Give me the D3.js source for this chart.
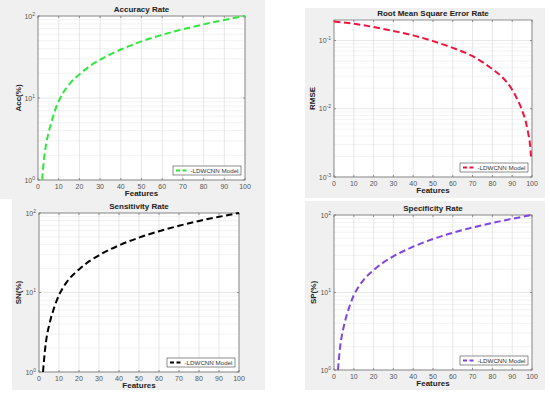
<!DOCTYPE html>
<html>
<head>
<meta charset="utf-8">
<script src="https://cdn.jsdelivr.net/npm/d3@7"></script>
<style>
  body { margin: 0; background: #fff; }
  svg { display: block; font-family: "Liberation Sans", Arial, sans-serif; }
</style>
</head>
<body>
<svg id="chart" width="550" height="394"></svg>
<script>
// values
var accFeatures = [2, 3, 4, 5, 6, 7, 8, 10, 12, 15, 20, 25, 30, 40, 50, 60, 70, 80, 90, 100];
var accValues   = [1, 1.9, 2.8, 3.7, 4.6, 5.6, 6.8, 9.1, 11.4, 14.6, 19.4, 24.5, 29.3, 39, 49, 59, 69, 79, 89.5, 100];

var rmseFeatures = [0, 10, 20, 30, 40, 50, 60, 70, 80, 85, 90, 93, 95, 97, 98, 99, 99.5];
var rmseValues   = [0.19, 0.176, 0.158, 0.138, 0.119, 0.098, 0.078, 0.059, 0.038, 0.029, 0.019, 0.013, 0.0095, 0.0062, 0.0045, 0.003, 0.002];

var snFeatures = [2, 3, 4, 5, 6, 7, 8, 10, 12, 15, 20, 25, 30, 40, 50, 60, 70, 80, 90, 100];
var snValues   = [1, 1.9, 2.9, 3.8, 4.8, 5.8, 6.9, 9.3, 11.5, 14.7, 19.5, 24.6, 29.4, 39.2, 49, 59, 69, 79.5, 89.5, 100];

var spFeatures = [2, 3, 4, 5, 6, 7, 8, 10, 12, 15, 20, 25, 30, 40, 50, 60, 70, 80, 90, 100];
var spValues   = [1, 1.9, 2.8, 3.7, 4.7, 5.7, 6.8, 9.2, 11.4, 14.6, 19.4, 24.5, 29.3, 39, 49, 59, 69, 79, 89.5, 100];

var xTicks = [0, 10, 20, 30, 40, 50, 60, 70, 80, 90, 100];
var titles = ["Accuracy Rate", "Root Mean Square Error Rate", "Sensitivity Rate", "Specificity Rate"];
var yLabels = ["Acc(%)", "RMSE", "SN(%)", "SP(%)"];
var legendText = "LDWCNN Model";

var panels = [
  {bg: [0, 0, 265, 199],   plot: {l: 38, t: 16, r: 245, b: 180}, xs: accFeatures, ys: accValues, yDom: [1, 100], yExp: [0, 1, 2], color: "#2fe83a", title: titles[0], ylab: yLabels[0], ylx: 21},
  {bg: [305, 8, 240, 190], plot: {l: 334, t: 20, r: 532, b: 177}, xs: rmseFeatures, ys: rmseValues, yDom: [0.001, 0.2], yExp: [-3, -2, -1], color: "#f0143c", title: titles[1], ylx: 315, ylab: yLabels[1]},
  {bg: [12, 199, 253, 191], plot: {l: 39, t: 213, r: 239, b: 372}, xs: snFeatures, ys: snValues, yDom: [1, 100], yExp: [0, 1, 2], color: "#000000", title: titles[2], ylab: yLabels[2], ylx: 21},
  {bg: [305, 201, 240, 189], plot: {l: 334, t: 215, r: 532, b: 370}, xs: spFeatures, ys: spValues, yDom: [1, 100], yExp: [0, 1, 2], color: "#7f45e0", title: titles[3], ylab: yLabels[3], ylx: 316}
];

var svg = d3.select("#chart");

panels.forEach(function(p) {
  var g = svg.append("g");
  var w = p.plot.r - p.plot.l, h = p.plot.b - p.plot.t;

  g.append("rect")
      .attr("x", p.bg[0]).attr("y", p.bg[1])
      .attr("width", p.bg[2]).attr("height", p.bg[3])
      .attr("fill", "#f0f0f0");

  var x = d3.scaleLinear().domain([0, 100]).range([p.plot.l, p.plot.r]),
      y = d3.scaleLog().domain(p.yDom).range([p.plot.b, p.plot.t]);

  g.append("rect")
      .attr("x", p.plot.l).attr("y", p.plot.t)
      .attr("width", w).attr("height", h)
      .attr("fill", "#fff");

  // minor log grid
  var minor = [];
  p.yExp.forEach(function(e) {
    for (var k = 2; k <= 9; k++) {
      var v = k * Math.pow(10, e);
      if (v > p.yDom[0] && v < p.yDom[1]) minor.push(v);
    }
  });
  g.selectAll(".minor").data(minor).enter().append("line")
      .attr("x1", p.plot.l).attr("x2", p.plot.r)
      .attr("y1", function(d) { return y(d); }).attr("y2", function(d) { return y(d); })
      .attr("stroke", "#ebebeb").attr("stroke-width", 0.6);

  var majors = p.yExp.map(function(e) { return Math.pow(10, e); });
  g.selectAll(".ymaj").data(majors).enter().append("line")
      .attr("x1", p.plot.l).attr("x2", p.plot.r)
      .attr("y1", function(d) { return y(d); }).attr("y2", function(d) { return y(d); })
      .attr("stroke", "#dcdcdc").attr("stroke-width", 0.7);

  g.selectAll(".xgrid").data(xTicks).enter().append("line")
      .attr("x1", function(d) { return x(d); }).attr("x2", function(d) { return x(d); })
      .attr("y1", p.plot.t).attr("y2", p.plot.b)
      .attr("stroke", "#dcdcdc").attr("stroke-width", 0.7);

  // ticks inside on all sides
  var tickG = g.append("g");
  xTicks.forEach(function(t) {
    tickG.append("line").attr("x1", x(t)).attr("x2", x(t)).attr("y1", p.plot.b).attr("y2", p.plot.b - 2).attr("stroke", "#555").attr("stroke-width", 0.6);
    tickG.append("line").attr("x1", x(t)).attr("x2", x(t)).attr("y1", p.plot.t).attr("y2", p.plot.t + 2).attr("stroke", "#555").attr("stroke-width", 0.6);
  });
  majors.forEach(function(t) {
    tickG.append("line").attr("x1", p.plot.l).attr("x2", p.plot.l + 2).attr("y1", y(t)).attr("y2", y(t)).attr("stroke", "#555").attr("stroke-width", 0.6);
    tickG.append("line").attr("x1", p.plot.r).attr("x2", p.plot.r - 2).attr("y1", y(t)).attr("y2", y(t)).attr("stroke", "#555").attr("stroke-width", 0.6);
  });

  g.append("rect")
      .attr("x", p.plot.l).attr("y", p.plot.t)
      .attr("width", w).attr("height", h)
      .attr("fill", "none").attr("stroke", "#777").attr("stroke-width", 0.8);

  // x tick labels
  g.selectAll(".xl").data(xTicks).enter().append("text")
      .attr("x", function(d) { return x(d); })
      .attr("y", p.plot.b + 8.5)
      .attr("text-anchor", "middle")
      .attr("font-size", 7)
      .attr("fill", "#555")
      .text(function(d) { return d; });

  // y tick labels 10^e
  p.yExp.forEach(function(e) {
    var t = g.append("text")
        .attr("x", p.plot.l - 3)
        .attr("y", y(Math.pow(10, e)) + 2.5)
        .attr("text-anchor", "end")
        .attr("font-size", 7)
        .attr("fill", "#555");
    t.append("tspan").text("10");
    t.append("tspan").attr("dy", -3).attr("font-size", 5).text(e);
  });

  g.append("text")
      .attr("x", (p.plot.l + p.plot.r) / 2)
      .attr("y", p.plot.t - 4)
      .attr("text-anchor", "middle")
      .attr("font-size", 8)
      .attr("font-weight", "bold")
      .attr("fill", "#222")
      .text(p.title);

  g.append("text")
      .attr("x", (p.plot.l + p.plot.r) / 2)
      .attr("y", p.plot.b + 16)
      .attr("text-anchor", "middle")
      .attr("font-size", 8)
      .attr("font-weight", "bold")
      .attr("fill", "#222")
      .text("Features");

  g.append("text")
      .attr("transform", "translate(" + p.ylx + "," + ((p.plot.t + p.plot.b) / 2) + ") rotate(-90)")
      .attr("text-anchor", "middle")
      .attr("font-size", 8)
      .attr("font-weight", "bold")
      .attr("fill", "#222")
      .text(p.ylab);

  // the data line
  var pts = p.xs.map(function(d, i) { return [d, p.ys[i]]; });
  var line = d3.line()
      .x(function(d) { return x(d[0]); })
      .y(function(d) { return y(d[1]); })
      .curve(d3.curveMonotoneX);

  g.append("path")
      .datum(pts)
      .attr("d", line)
      .attr("fill", "none")
      .attr("stroke", p.color)
      .attr("stroke-width", 2)
      .attr("stroke-dasharray", "6.5,3.5");

  // legend, lower right
  var lw = 68, lh = 9,
      lx = p.plot.r - 4 - lw, ly = p.plot.b - 5 - lh;
  g.append("rect")
      .attr("x", lx).attr("y", ly).attr("width", lw).attr("height", lh)
      .attr("fill", "#fff").attr("stroke", "#444").attr("stroke-width", 0.6);
  g.append("line")
      .attr("x1", lx + 3).attr("x2", lx + 16)
      .attr("y1", ly + lh / 2).attr("y2", ly + lh / 2)
      .attr("stroke", p.color).attr("stroke-width", 1.8)
      .attr("stroke-dasharray", "4,2.5");
  g.append("text")
      .attr("x", lx + 17.5).attr("y", ly + lh / 2 + 2.1)
      .attr("font-size", 5.8)
      .attr("fill", "#333")
      .attr("textLength", lw - 20)
      .attr("lengthAdjust", "spacingAndGlyphs")
      .text("-" + legendText);
});
</script>
</body>
</html>
